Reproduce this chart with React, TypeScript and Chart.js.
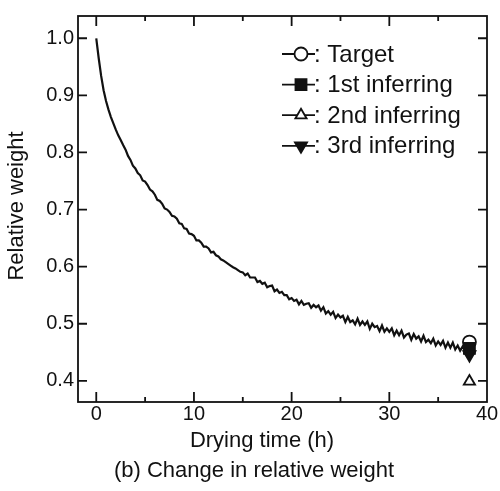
import React, { useEffect, useRef } from 'react';
import { Chart, registerables } from 'chart.js';
import { drawPoint } from 'chart.js/helpers';

Chart.register(...registerables);

// ---- data ----
const SAMPLE_STEP_H = 0.25;
const relativeWeight = [
  1.000, 0.965, 0.934, 0.909, 0.890, 0.875, 0.862, 0.851, 0.840, 0.830,
  0.822, 0.813, 0.805, 0.794, 0.787, 0.777, 0.772, 0.764, 0.760, 0.751,
  0.749, 0.743, 0.735, 0.732, 0.726, 0.717, 0.715, 0.710, 0.702, 0.700,
  0.696, 0.689, 0.688, 0.684, 0.676, 0.675, 0.667, 0.666, 0.658, 0.657,
  0.654, 0.646, 0.646, 0.642, 0.635, 0.635, 0.632, 0.625, 0.626, 0.620,
  0.618, 0.613, 0.611, 0.608, 0.605, 0.602, 0.599, 0.597, 0.594, 0.591,
  0.590, 0.585, 0.588, 0.581, 0.581, 0.581, 0.573, 0.575, 0.570, 0.572,
  0.564, 0.566, 0.567, 0.557, 0.560, 0.554, 0.556, 0.550, 0.550, 0.543,
  0.545, 0.540, 0.542, 0.534, 0.540, 0.533, 0.535, 0.536, 0.528, 0.533,
  0.529, 0.532, 0.523, 0.529, 0.518, 0.522, 0.516, 0.521, 0.510, 0.516,
  0.511, 0.514, 0.503, 0.512, 0.503, 0.506, 0.499, 0.509, 0.498, 0.504,
  0.498, 0.504, 0.491, 0.500, 0.494, 0.496, 0.487, 0.497, 0.486, 0.492,
  0.486, 0.492, 0.480, 0.488, 0.480, 0.488, 0.476, 0.481, 0.483, 0.472,
  0.482, 0.474, 0.478, 0.469, 0.479, 0.468, 0.472, 0.466, 0.474, 0.462,
  0.469, 0.463, 0.470, 0.458, 0.467, 0.458, 0.467, 0.455, 0.462, 0.453,
  0.460, 0.453,
];
const dryingTimeH = relativeWeight.map((_, i) => i * SAMPLE_STEP_H);

const markerLabels = ['Target', '1st inferring', '2nd inferring', '3rd inferring'];
const markerTimeH = [38.2, 38.2, 38.2, 38.2];
const markerWeight = [0.468, 0.457, 0.399, 0.446];

const xTicks = [0, 10, 20, 30, 40];
const xMinorTicks = [5, 15, 25, 35];
const yTicks = [0.4, 0.5, 0.6, 0.7, 0.8, 0.9, 1.0];

const xTitle = 'Drying time (h)';
const yTitle = 'Relative weight';
const caption = '(b) Change in relative weight';

// ---- styles ----
const FONT = '"Liberation Sans", Arial, Helvetica, sans-serif';
const INK = '#111111';
const markerStyles = [
  { pointStyle: 'circle', radius: 6.5, rotation: 0, fill: '#ffffff', order: 5 },
  { pointStyle: 'rect', radius: 7.8, rotation: 0, fill: INK, order: 3 },
  { pointStyle: 'triangle', radius: 6.5, rotation: 0, fill: '#ffffff', order: 2 },
  { pointStyle: 'triangle', radius: 7, rotation: 180, fill: INK, order: 1 },
];

const framePlugin = {
  id: 'frameTicks',
  afterDraw(chart: any) {
    const { ctx, chartArea, scales } = chart;
    const { left, right, top, bottom } = chartArea;
    const x = scales.x;
    const y = scales.y;
    ctx.save();
    ctx.strokeStyle = INK;
    ctx.lineWidth = 1.8;
    ctx.strokeRect(left, top, right - left, bottom - top);
    ctx.beginPath();
    yTicks.forEach((v) => {
      const py = y.getPixelForValue(v);
      ctx.moveTo(left, py);
      ctx.lineTo(left + 9, py);
      ctx.moveTo(right, py);
      ctx.lineTo(right - 9, py);
    });
    xTicks.forEach((v) => {
      const px = x.getPixelForValue(v);
      if (px >= right - 1) return;
      ctx.moveTo(px, bottom);
      ctx.lineTo(px, bottom - 10);
      ctx.moveTo(px, top);
      ctx.lineTo(px, top + 10);
    });
    xMinorTicks.forEach((v) => {
      const px = x.getPixelForValue(v);
      ctx.moveTo(px, bottom);
      ctx.lineTo(px, bottom - 5);
      ctx.moveTo(px, top);
      ctx.lineTo(px, top + 5);
    });
    ctx.stroke();

    // axis titles
    ctx.fillStyle = INK;
    ctx.font = `22px ${FONT}`;
    ctx.textAlign = 'center';
    ctx.textBaseline = 'alphabetic';
    ctx.fillText(xTitle, left + 184, bottom + 45);
    ctx.save();
    ctx.translate(left - 55, top + 190);
    ctx.rotate(-Math.PI / 2);
    ctx.fillText(yTitle, 0, 0);
    ctx.restore();

    // inline legend
    const lx = right - 205;
    const ly = top + 38;
    const rowH = 30.6;
    ctx.font = `24px ${FONT}`;
    ctx.textAlign = 'left';
    ctx.textBaseline = 'middle';
    chart.data.datasets.forEach((d: any) => {
      if (d.legendRow === undefined) return;
      const ry = ly + d.legendRow * rowH;
      ctx.strokeStyle = INK;
      ctx.lineWidth = 1.8;
      ctx.beginPath();
      ctx.moveTo(lx, ry);
      ctx.lineTo(lx + 33, ry);
      ctx.stroke();
      ctx.fillStyle = d.backgroundColor;
      ctx.strokeStyle = INK;
      ctx.lineWidth = 1.8;
      drawPoint(ctx, {
        pointStyle: d.pointStyle,
        rotation: d.rotation,
        radius: d.pointRadius,
        borderWidth: 1.8,
      }, lx + 19, ry);
      ctx.fillStyle = INK;
      ctx.fillText(': ' + d.label, lx + 32, ry + 1);
    });
    ctx.restore();
  },
};

export default function App() {
  const canvasRef = useRef<HTMLCanvasElement | null>(null);

  useEffect(() => {
    document.body.style.margin = '0';
    const canvas = canvasRef.current;
    if (!canvas) return;

    const lineData = dryingTimeH.map((t, i) => ({ x: t, y: relativeWeight[i] }));
    const markerDatasets = markerLabels.map((label, i) => ({
      type: 'scatter' as const,
      label,
      data: [{ x: markerTimeH[i], y: markerWeight[i] }],
      pointStyle: markerStyles[i].pointStyle,
      rotation: markerStyles[i].rotation,
      pointRadius: markerStyles[i].radius,
      pointHoverRadius: markerStyles[i].radius,
      backgroundColor: markerStyles[i].fill,
      borderColor: INK,
      borderWidth: 1.8,
      order: markerStyles[i].order,
      legendRow: i,
    }));

    const chart = new Chart(canvas, {
      type: 'scatter',
      data: {
        datasets: [
          {
            type: 'scatter',
            label: 'Relative weight',
            data: lineData,
            showLine: true,
            borderColor: INK,
            borderWidth: 2.2,
            pointRadius: 0,
            tension: 0,
            order: 10,
          } as any,
          ...(markerDatasets as any[]),
        ],
      },
      options: {
        animation: false,
        responsive: false,
        events: [],
        layout: { padding: { top: 12, right: 0, left: 8, bottom: 0 } },
        plugins: {
          legend: { display: false },
          tooltip: { enabled: false },
          title: {
            display: true,
            position: 'bottom',
            text: caption,
            color: INK,
            font: { family: FONT, size: 22, weight: 'normal' },
            padding: { top: 6, bottom: 6.6 },
          },
        },
        scales: {
          x: {
            type: 'linear',
            position: 'bottom',
            min: -1.87,
            max: 40,
            grid: { display: false, drawTicks: false },
            border: { display: false },
            ticks: {
              color: INK,
              font: { family: FONT, size: 20 },
              padding: 0,
              maxRotation: 0,
              callback: (v: any) => String(v),
            },
            afterBuildTicks: (scale: any) => {
              scale.ticks = xTicks.map((v) => ({ value: v }));
            },
            afterFit: (scale: any) => {
              scale.height = 50;
            },
          },
          y: {
            type: 'linear',
            position: 'left',
            min: 0.363,
            max: 1.039,
            grid: { display: false, drawTicks: false },
            border: { display: false },
            ticks: {
              color: INK,
              font: { family: FONT, size: 20 },
              padding: 4,
              callback: (v: any) => Number(v).toFixed(1),
            },
            afterBuildTicks: (scale: any) => {
              scale.ticks = yTicks.map((v) => ({ value: v }));
            },
            afterFit: (scale: any) => {
              scale.width = 70;
            },
          },
          yRight: {
            type: 'linear',
            position: 'right',
            min: 0.363,
            max: 1.039,
            grid: { display: false, drawTicks: false },
            border: { display: false },
            ticks: { display: false },
            afterFit: (scale: any) => {
              scale.width = 13;
            },
          },
        },
      },
      plugins: [framePlugin],
    } as any);

    return () => chart.destroy();
  }, []);

  return (
    <div style={{ width: 500, height: 491 }}>
      <canvas ref={canvasRef} width={500} height={491} style={{ display: 'block' }} />
    </div>
  );
}
